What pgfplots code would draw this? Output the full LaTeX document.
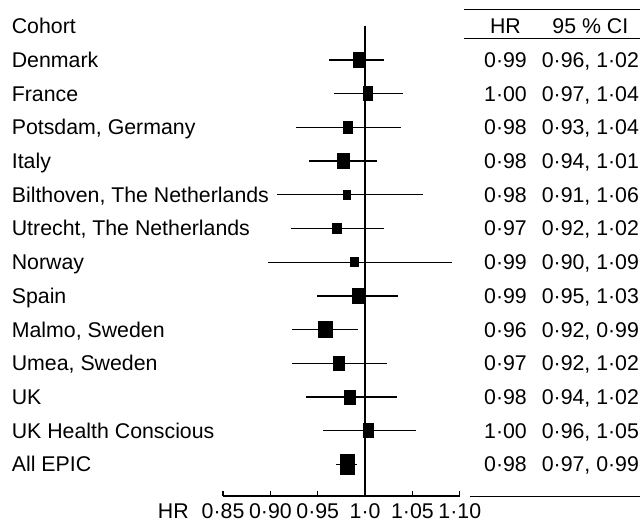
\documentclass[border=0pt]{standalone}
\usepackage{fontspec}
\setmainfont{Liberation Sans}
\usepackage{pgfplots}
\usepackage{pgfplotstable}
\pgfplotsset{compat=1.18}

\def\rw{1}\def\rh{1}

% row, estimate, lower, upper, box width (px), box height (px)
\pgfplotstableread{
row est lo hi w h
1 0.9926 0.9614 1.0200 10 14.7
2 1.0026 0.9670 1.0401 9 14
3 0.9817 0.9266 1.0384 9.3 12.7
4 0.9768 0.9409 1.0123 12 15.3
5 0.9807 0.9072 1.0612 7.3 9
6 0.9701 0.9216 1.0200 9.3 10
7 0.9891 0.8977 1.0921 8 9
8 0.9923 0.9491 1.0352 10.7 15.7
9 0.9580 0.9230 0.9930 13.7 16.7
10 0.9725 0.9230 1.0236 10.3 14
11 0.9839 0.9378 1.0334 10.7 14
12 1.0036 0.9554 1.0532 10.7 14
13 0.9810 0.9688 0.9912 14 19.3
}\forest

\newcommand\fprow[4]{%
  \node[anchor=base west, inner sep=0pt] at (axis cs:0.62669,-#1-0.22) {#2};
  \node[anchor=base, inner sep=0pt] at (axis cs:1.14821,-#1-0.22) {#3};
  \node[anchor=base, inner sep=0pt] at (axis cs:1.23787,-#1-0.22) {#4};
}

\begin{document}
\fontsize{16}{19}\selectfont
\begin{tikzpicture}
\begin{axis}[
  scale only axis,
  width=177.75pt, height=352.6pt,
  xmin=0.85, xmax=1.10, ymin=-13.93, ymax=0,
  enlargelimits=false,
  clip=false,
  axis x line=bottom,
  axis y line=none,
  x axis line style={-, line width=1pt},
  tick align=inside,
  major tick length=3.75pt,
  tick style={line width=1pt, black},
  xtick={0.85,0.90,0.95,1.0,1.05,1.10},
  xticklabels={0·85,0·90,0·95,1·0,1·05,1·10},
  xticklabel style={anchor=base, inner sep=0pt, yshift=-17.25pt},
]
% confidence intervals
\addplot[only marks, mark=none, line width=1pt,
  error bars/.cd, x dir=both, x explicit, error mark=none,
  error bar style={line width=1pt, black, solid}]
  table[x=est, y expr=-\thisrow{row},
        x error plus expr={\thisrow{hi}-\thisrow{est}},
        x error minus expr={\thisrow{est}-\thisrow{lo}}] {\forest};
% line of no effect
\addplot[black, line width=1pt] coordinates {(1,0) (1,-13.93)};
% point estimates
\addplot[scatter, only marks, mark=square*, mark size=3.75pt,
  scatter/use mapped color={draw=black, fill=black},
  mark options={line width=0pt},
  visualization depends on={\thisrow{w}/10 \as \rw},
  visualization depends on={\thisrow{h}/10 \as \rh},
  scatter/@pre marker code/.append style={/tikz/xscale=\rw, /tikz/yscale=\rh}]
  table[x=est, y expr=-\thisrow{row}] {\forest};

\fprow{0}{Cohort}{HR}{95 \% CI}
\fprow{1}{Denmark}{0·99}{0·96, 1·02}
\fprow{2}{France}{1·00}{0·97, 1·04}
\fprow{3}{Potsdam, Germany}{0·98}{0·93, 1·04}
\fprow{4}{Italy}{0·98}{0·94, 1·01}
\fprow{5}{Bilthoven, The Netherlands}{0·98}{0·91, 1·06}
\fprow{6}{Utrecht, The Netherlands}{0·97}{0·92, 1·02}
\fprow{7}{Norway}{0·99}{0·90, 1·09}
\fprow{8}{Spain}{0·99}{0·95, 1·03}
\fprow{9}{Malmo, Sweden}{0·96}{0·92, 0·99}
\fprow{10}{Umea, Sweden}{0·97}{0·92, 1·02}
\fprow{11}{UK}{0·98}{0·94, 1·02}
\fprow{12}{UK Health Conscious}{1·00}{0·96, 1·05}
\fprow{13}{All EPIC}{0·98}{0·97, 0·99}

% table rules
\draw[line width=1pt] (axis cs:1.10390,0.502) -- (axis cs:1.290612,0.502);
\draw[line width=1pt] (axis cs:1.10390,-0.357) -- (axis cs:1.290612,-0.357);
\draw[line width=1pt] (axis cs:1.11023,-13.957) -- (axis cs:1.290612,-13.957);
% axis caption
\node[anchor=base, inner sep=0pt] at (axis cs:0.79747,-14.615) {HR};
% picture frame
\path (axis cs:0.614451,0.77778) rectangle (axis cs:1.290612,-14.7185);
\end{axis}
\end{tikzpicture}
\end{document}
